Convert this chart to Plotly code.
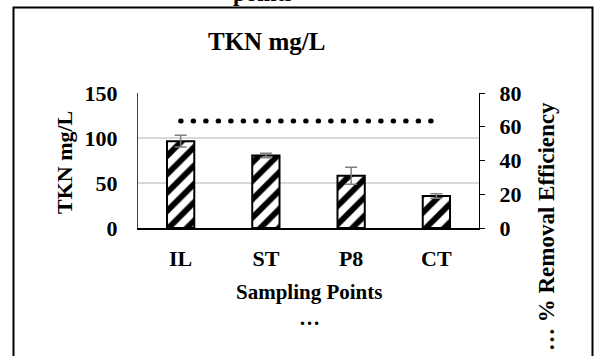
import plotly.graph_objects as go

categories = ["IL", "ST", "P8", "CT"]
tkn_values = [96.5, 80.5, 58, 35.5]
tkn_errors = [6.5, 2.5, 9.5, 2.5]
removal_values = [63.4, 63.4, 63.4, 63.4]
left_ticks = [0, 50, 100, 150]
right_ticks = [0, 20, 40, 60, 80]

FONT = "Liberation Serif, Times New Roman, serif"

# pixel geometry of plot area
L, R, T, B = 138, 479, 93, 228
W, H = 595, 356
def px(x):
    return (x - L) / (R - L)
def py(y):
    return (B - y) / (B - T)

fig = go.Figure()
fig.add_trace(go.Bar(
    x=categories, y=tkn_values,
    width=0.32,
    marker=dict(color="white", line=dict(color="black", width=2),
                pattern=dict(shape="/", fgcolor="black", bgcolor="white",
                             size=13, solidity=0.45, fillmode="replace")),
    error_y=dict(type="data", array=tkn_errors, visible=True,
                 color="#7f7f7f", thickness=1.5, width=6),
    showlegend=False,
))
fig.add_trace(go.Scatter(
    x=categories, y=removal_values, yaxis="y2", mode="lines",
    line=dict(color="black", width=5, dash="0.5px,12px"),
    showlegend=False,
))

fig.update_layout(
    width=W, height=H,
    margin=dict(l=L, r=W - R, t=T, b=H - B, autoexpand=False),
    paper_bgcolor="white", plot_bgcolor="white",
    font=dict(family=FONT, color="black"),
    xaxis=dict(
        showgrid=False, showline=True, linecolor="black", linewidth=1.5,
        ticks="", tickfont=dict(size=22, family=FONT, weight="bold"),
        ticklabelstandoff=10, automargin=False,
    ),
    yaxis=dict(
        range=[0, 150], tickvals=left_ticks, showgrid=True,
        gridcolor="#d9d9d9", gridwidth=1.5, zeroline=False,
        showline=True, linecolor="#404040", linewidth=1,
        ticks="", tickfont=dict(size=22, family=FONT, weight="bold"),
        ticklabelstandoff=15, automargin=False,
    ),
    yaxis2=dict(
        range=[0, 80], tickvals=right_ticks, overlaying="y", side="right",
        showgrid=False, zeroline=False, showline=True, linecolor="black",
        linewidth=1.2, ticks="outside", ticklen=5, tickcolor="black",
        tickfont=dict(size=22, family=FONT, weight="bold"),
        ticklabelstandoff=10, automargin=False,
    ),
    shapes=[
        dict(type="rect", xref="paper", yref="paper",
             x0=px(13.5), x1=px(592.5), y0=py(370), y1=py(7.5),
             line=dict(color="black", width=2), fillcolor="rgba(0,0,0,0)",
             layer="below"),
    ],
    annotations=[
        dict(text="<b>points</b>", xref="paper", yref="paper",
             x=px(263), y=py(-6), showarrow=False,
             font=dict(size=23, family=FONT), xanchor="center", yanchor="middle"),
        dict(text="<b>TKN mg/L</b>", xref="paper", yref="paper",
             x=px(266), y=py(41), showarrow=False,
             font=dict(size=25, family=FONT), xanchor="center", yanchor="middle"),
        dict(text="<b>TKN mg/L</b>", xref="paper", yref="paper",
             x=px(64), y=py(163), showarrow=False, textangle=-90,
             font=dict(size=22, family=FONT), xanchor="center", yanchor="middle"),
        dict(text="<b>Sampling Points</b>", xref="paper", yref="paper",
             x=px(309), y=py(292), showarrow=False,
             font=dict(size=21, family=FONT), xanchor="center", yanchor="middle"),
        dict(text="<b>…</b>", xref="paper", yref="paper",
             x=px(309), y=py(318), showarrow=False,
             font=dict(size=21, family=FONT), xanchor="center", yanchor="middle"),
        dict(text="<b>… % Removal Efficiency</b>", xref="paper", yref="paper",
             x=px(546), y=py(227), showarrow=False, textangle=-90,
             font=dict(size=23, family=FONT), xanchor="center", yanchor="middle"),
    ],
)

fig.write_html(
    "out.html",
    config={"displayModeBar": False},
    post_script=(
        "document.body.style.margin='0';document.body.style.overflow='hidden';"
        "document.querySelectorAll('.scatterlayer .js-line').forEach("
        "function(p){p.style.strokeLinecap='round';});"
    ),
)
